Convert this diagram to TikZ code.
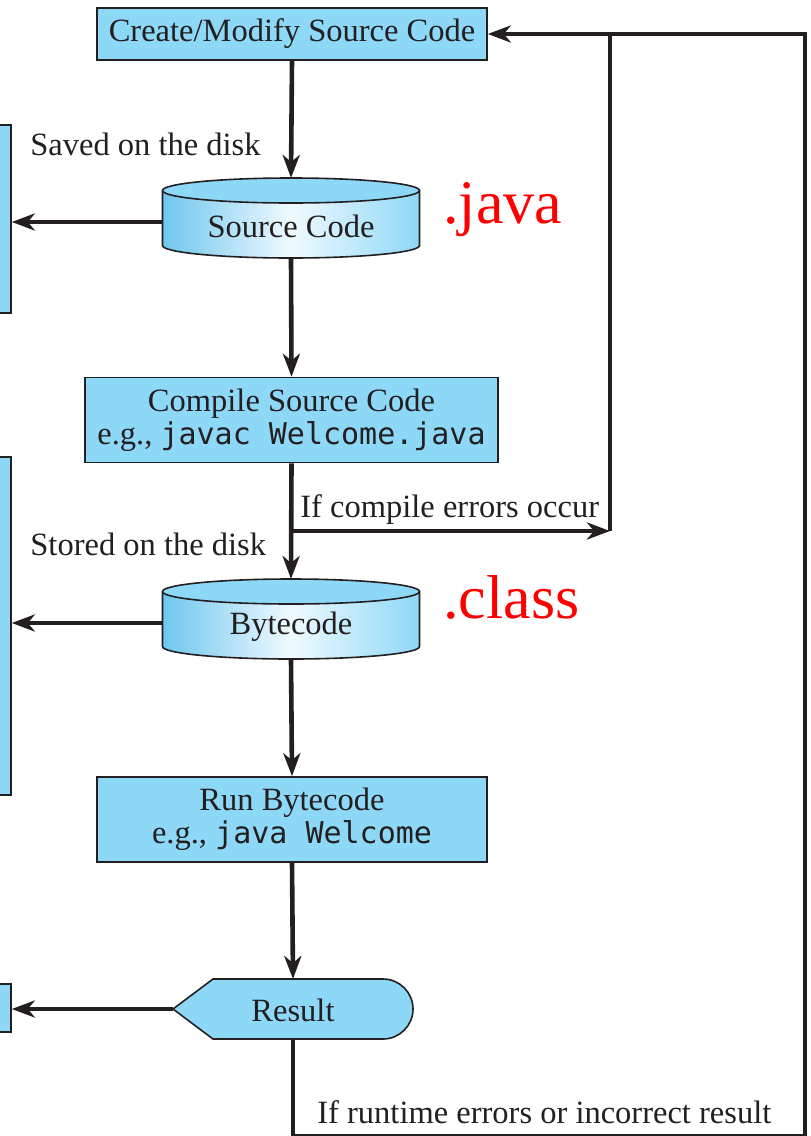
\documentclass[tikz,border=0pt]{standalone}
\usepackage{fontspec}
\setmainfont{Liberation Serif}
\newfontfamily\codefont{DejaVu Sans Mono}
\usetikzlibrary{arrows.meta}
\definecolor{boxblue}{RGB}{141,216,247}
\definecolor{diskdark}{RGB}{110,198,238}
\definecolor{disklight}{RGB}{240,250,254}
\definecolor{inkdark}{RGB}{35,31,32}
\tikzset{
  stepbox/.style={draw=inkdark, line width=0.8pt, fill=boxblue, text=inkdark, align=center,
    font=\fontsize{16.25}{16.5}\selectfont, inner sep=0pt},
  sidebox/.style={draw=inkdark, line width=0.8pt, fill=boxblue, inner sep=0pt, minimum width=15.5pt},
  flow/.style={line width=2.3pt, draw=inkdark, -{Stealth[length=11.5pt,width=8.5pt,inset=3.5pt]}},
  loopline/.style={line width=2.3pt, draw=inkdark},
  note/.style={text=inkdark, font=\fontsize{16.25}{16.5}\selectfont, inner sep=0pt, anchor=base west},
  ext/.style={text=red, font=\fontsize{31}{31}\selectfont, inner sep=0pt, anchor=base west},
  disktext/.style={text=inkdark, font=\fontsize{16.25}{16.5}\selectfont, inner sep=0pt},
}
\newcommand{\codetext}[1]{{\codefont\fontsize{15}{16.5}\selectfont #1}}
\newcommand{\disk}[3]{%
  \coordinate (#1-c) at #2;
  \fill[left color=diskdark, right color=boxblue, middle color=disklight]
    ([xshift=-64.25pt,yshift=13.75pt]#1-c) -- ++(0pt,-27.5pt)
    arc[start angle=180, end angle=360, x radius=64.25pt, y radius=6.25pt]
    -- ++(0pt,27.5pt) -- cycle;
  \draw[draw=inkdark, line width=0.8pt]
    ([xshift=-64.25pt,yshift=13.75pt]#1-c) -- ++(0pt,-27.5pt)
    arc[start angle=180, end angle=360, x radius=64.25pt, y radius=6.25pt]
    -- ++(0pt,27.5pt);
  \filldraw[fill=boxblue, draw=inkdark, line width=0.8pt]
    ([yshift=13.75pt]#1-c) ellipse[x radius=64.25pt, y radius=6.25pt];
  \coordinate (#1-top) at ([yshift=20pt]#1-c);
  \coordinate (#1-bot) at ([yshift=-20pt]#1-c);
  \coordinate (#1-west) at ([xshift=-64.25pt,yshift=-2pt]#1-c);
  \node[disktext] (#1) at ([yshift=-4pt]#1-c) {#3};
}
\begin{document}
\begin{tikzpicture}[x=0.5pt, y=-0.5pt]
\useasboundingbox (0,0) rectangle (810,1136);
\clip (0,0) rectangle (810,1136);
\node[stepbox, minimum width=195pt, minimum height=26pt] (create) at (292,34) {Create/Modify Source Code};
\disk{src}{(291,218)}{Source Code}
\node[stepbox, minimum width=206.5pt, minimum height=42.5pt] (compile) at (291.5,420)
  {Compile Source Code\\e.g., \codetext{javac Welcome.java}};
\disk{byte}{(291,619)}{Bytecode}
\node[stepbox, minimum width=195pt, minimum height=42.5pt] (run) at (292,819.5)
  {Run Bytecode\\e.g., \codetext{java Welcome}};
\filldraw[fill=boxblue, draw=inkdark, line width=0.8pt] (173,1009) -- (213,979) -- (383,979)
  arc[start angle=90, end angle=-90, radius=15pt] -- (213,1039) -- cycle;
\coordinate (res-tip) at (173,1009);
\coordinate (res-top) at (293,979);
\coordinate (res-bot) at (293,1039);
\node[disktext] (result) at (293,1010) {Result};
\node[sidebox, minimum height=94pt] (side1) at (-4.5,219) {};
\node[sidebox, minimum height=169pt] (side2) at (-4.5,626) {};
\node[sidebox, minimum height=24pt] (side3) at (-4.5,1008) {};
\draw[flow] (create.south) -- (src-top);
\draw[flow] (src-west) -- (src-west -| side1.east);
\draw[flow] (src-bot) -- (compile.north);
\draw[flow] (compile.south) -- (byte-top);
\coordinate (errc) at (610,531);
\draw[flow] (compile.south |- errc) -- (errc);
\draw[loopline] (errc) -- (errc |- create.east);
\draw[flow] (byte-west) -- (byte-west -| side2.east);
\draw[flow] (byte-bot) -- (run.north);
\draw[flow] (run.south) -- (res-top);
\draw[flow] (res-tip) -- (res-tip -| side3.east);
\coordinate (rtc) at (805,1136.5);
\draw[flow] (res-bot) -- (res-bot |- rtc) -- (rtc) -- (rtc |- create.east) -- (create.east);
\node[note] (saved) at (30,155) {Saved on the disk};
\node[note] (stored) at (30,555) {Stored on the disk};
\node[note] (cerr) at (300,517) {If compile errors occur};
\node[note] (rerr) at (317,1123) {If runtime errors or incorrect result};
\node[ext] (javaext) at (443,223) {.java};
\node[ext] (classext) at (443,618) {.class};
\end{tikzpicture}
\end{document}
